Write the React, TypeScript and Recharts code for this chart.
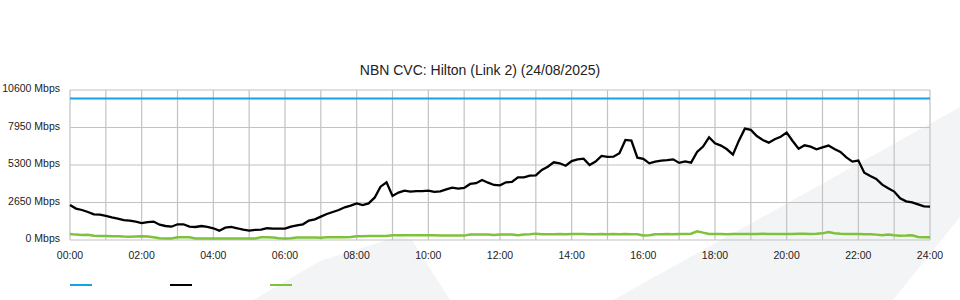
import { LineChart, Line, XAxis, YAxis, CartesianGrid } from "recharts";

// 10-minute samples, 00:00 -> 24:00 (145 points)
const SAMPLE_MINUTES = 10;
const CAPACITY_MBPS = 10000;

// total traffic (black)
const TRAFFIC_MBPS = [
  2470, 2220, 2120, 1980, 1810, 1790,
  1700, 1600, 1510, 1410, 1370, 1300,
  1200, 1270, 1300, 1080, 990, 940,
  1110, 1110, 950, 920, 990, 920,
  830, 660, 870, 920, 830, 730,
  660, 710, 730, 830, 800, 800,
  800, 940, 1040, 1110, 1370, 1460,
  1650, 1840, 1980, 2120, 2310, 2430,
  2590, 2470, 2590, 2990, 3770, 4080,
  3110, 3350, 3490, 3420, 3460, 3460,
  3490, 3400, 3440, 3580, 3700, 3630,
  3680, 3960, 4010, 4240, 4050, 3890,
  3860, 4080, 4100, 4430, 4430, 4550,
  4570, 4950, 5180, 5490, 5420, 5250,
  5580, 5700, 5750, 5300, 5540, 5940,
  5870, 5890, 6130, 7070, 7020, 5820,
  5730, 5420, 5540, 5610, 5650, 5700,
  5450, 5560, 5470, 6220, 6600, 7260,
  6830, 6670, 6410, 6030, 7020, 7870,
  7780, 7350, 7070, 6880, 7120, 7300,
  7590, 7000, 6450, 6690, 6600, 6410,
  6550, 6670, 6430, 6220, 5840, 5540,
  5610, 4760, 4520, 4310, 3910, 3650,
  3420, 2950, 2730, 2660, 2520, 2380,
  2360,
];

// upstream (green)
const UPLOAD_MBPS = [
  420, 380, 360, 370, 300, 280,
  280, 270, 270, 240, 230, 250,
  260, 250, 190, 120, 110, 110,
  200, 200, 190, 110, 100, 100,
  100, 100, 100, 100, 100, 100,
  110, 100, 190, 190, 170, 120,
  110, 120, 180, 170, 180, 170,
  160, 190, 190, 200, 200, 210,
  270, 270, 280, 280, 290, 290,
  340, 340, 340, 330, 340, 340,
  340, 330, 310, 310, 310, 310,
  310, 390, 390, 380, 390, 350,
  390, 380, 390, 340, 390, 400,
  450, 410, 400, 410, 420, 410,
  430, 420, 420, 410, 400, 420,
  410, 420, 400, 420, 410, 400,
  320, 330, 400, 410, 420, 410,
  420, 430, 440, 620, 520, 430,
  420, 420, 410, 420, 420, 420,
  430, 430, 440, 430, 420, 430,
  420, 420, 440, 440, 430, 440,
  470, 560, 480, 450, 430, 420,
  420, 410, 400, 380, 330, 380,
  330, 300, 310, 330, 220, 200,
  200,
];

const HOUR_TICKS = [0, 1, 2, 3, 4, 5, 6, 7, 8, 9, 10, 11, 12, 13, 14, 15, 16, 17, 18, 19, 20, 21, 22, 23, 24];
const HOUR_LABELS = [
  "00:00", "", "02:00", "", "04:00", "", "06:00", "", "08:00", "", "10:00", "", "12:00",
  "", "14:00", "", "16:00", "", "18:00", "", "20:00", "", "22:00", "", "24:00",
];
const Y_TICKS = [0, 2650, 5300, 7950, 10600];

const COLORS = { capacity: "#1ba1e2", traffic: "#000000", upload: "#7ec13a" };
const FONT = '"Liberation Sans", Arial, sans-serif';

const data = TRAFFIC_MBPS.map((v, i) => ({
  h: (i * SAMPLE_MINUTES) / 60,
  capacity: CAPACITY_MBPS,
  traffic: v,
  upload: UPLOAD_MBPS[i],
}));

// plain <text> so the label never wraps
const YTick = ({ x, y, payload }: any) => (
  <text x={x} y={y} dy={2} textAnchor="end" fill="#222" fontSize={10.5} fontFamily={FONT}>
    {`${payload.value} Mbps`}
  </text>
);

export default function App() {
  return (
    <div style={{ position: "absolute", left: 0, top: 0, width: 960, height: 300, background: "#fff", fontFamily: FONT }}>
      {/* faint watermark shapes behind the plot */}
      <svg width={960} height={300} style={{ position: "absolute", left: 0, top: 0 }}>
        <polygon points="253,300 320,261 400,236 412,240 450,300" fill="#f3f4f6" />
        <polygon points="613,300 960,107 960,217 893,300" fill="#f3f4f6" />
      </svg>

      <div
        style={{
          position: "absolute",
          top: 62,
          left: 0,
          width: 960,
          textAlign: "center",
          fontSize: 14,
          lineHeight: "16px",
          color: "#222",
        }}
      >
        NBN CVC: Hilton (Link 2) (24/08/2025)
      </div>

      <div style={{ position: "absolute", left: 0, top: 0 }}>
        <LineChart width={960} height={300} data={data} margin={{ top: 90, right: 30, bottom: 30, left: 0 }}>
          <CartesianGrid stroke="#c2c2c2" strokeWidth={1.2} />
          <XAxis
            dataKey="h"
            type="number"
            domain={[0, 24]}
            ticks={HOUR_TICKS}
            interval={0}
            height={30}
            tickFormatter={(v: number) => HOUR_LABELS[v] ?? ""}
            axisLine={false}
            tickLine={false}
            tickMargin={6}
            tick={{ fill: "#222", fontSize: 10.5, fontFamily: FONT }}
          />
          <YAxis
            type="number"
            domain={[0, 10600]}
            ticks={Y_TICKS}
            interval={0}
            width={70}
            axisLine={false}
            tickLine={false}
            tickMargin={4}
            tick={<YTick />}
          />
          <Line dataKey="capacity" name="Capacity" stroke={COLORS.capacity} strokeWidth={2} dot={false} isAnimationActive={false} />
          <Line dataKey="upload" name="Upload" stroke={COLORS.upload} strokeWidth={2.5} dot={false} isAnimationActive={false} />
          <Line dataKey="traffic" name="Traffic" stroke={COLORS.traffic} strokeWidth={2.3} dot={false} isAnimationActive={false} />
        </LineChart>
      </div>

      {/* legend swatches (no labels in the source) */}
      {[COLORS.capacity, COLORS.traffic, COLORS.upload].map((c, i) => (
        <div
          key={c}
          style={{ position: "absolute", left: 70 + i * 100, top: 284, width: 22, height: 2, background: c }}
        />
      ))}
    </div>
  );
}
